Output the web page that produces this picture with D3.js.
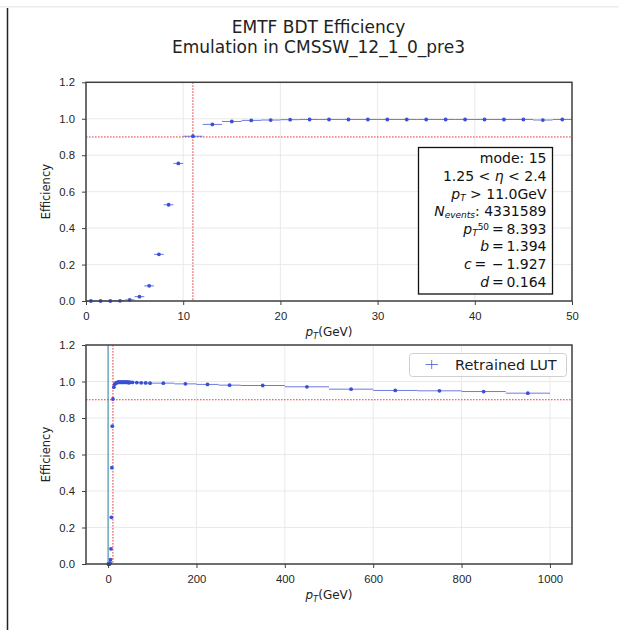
<!DOCTYPE html>

<head>
    <meta charset="UTF-8">
    <script src="https://d3js.org/d3.v7.min.js"></script>
    <style>
        body {
            margin: 0;
            background: #fff;
            font-family: "DejaVu Sans", sans-serif;
        }

        .tick text {
            font-size: 11.3px;
            fill: #262626;
        }

        .tick line {
            stroke: #404040;
        }
    </style>
</head>

<body>
    <div id="viz"></div>
    <script>
        // efficiency per pT bin (bin centre, half width, efficiency)
        const lowPtCenters = [0.5, 1.5, 2.5, 3.5, 4.5, 5.5, 6.5, 7.5, 8.5, 9.5,
            11, 13, 15, 17, 19, 21, 23, 25, 27, 29, 31, 33, 35, 37, 39, 41, 43, 45, 47, 49];
        const lowPtHalfWidths = [0.5, 0.5, 0.5, 0.5, 0.5, 0.5, 0.5, 0.5, 0.5, 0.5,
            1, 1, 1, 1, 1, 1, 1, 1, 1, 1, 1, 1, 1, 1, 1, 1, 1, 1, 1, 1];
        const lowPtEff = [0.000, 0.000, 0.000, 0.001, 0.006, 0.024, 0.083, 0.256, 0.528, 0.755,
            0.904, 0.969, 0.985, 0.991, 0.993, 0.995, 0.996, 0.996, 0.996, 0.996,
            0.996, 0.996, 0.996, 0.996, 0.996, 0.996, 0.996, 0.996, 0.993, 0.996];

        const highPtCenters = [55, 65, 75, 85, 95, 125, 175, 225, 275, 350, 450, 550, 650, 750, 850, 950];
        const highPtHalfWidths = [5, 5, 5, 5, 5, 25, 25, 25, 25, 50, 50, 50, 50, 50, 50, 50];
        const highPtEff = [0.995, 0.994, 0.993, 0.992, 0.991, 0.991, 0.987, 0.984, 0.980,
            0.978, 0.971, 0.958, 0.951, 0.949, 0.945, 0.936];

        const topXTicks = [0, 10, 20, 30, 40, 50];
        const bottomXTicks = [0, 200, 400, 600, 800, 1000];
        const yTicks = [0, 0.2, 0.4, 0.6, 0.8, 1.0, 1.2];

        const ptCut = 11.0;
        const effThreshold = 0.9;
        const titleLines = ["EMTF BDT Efficiency", "Emulation in CMSSW_12_1_0_pre3"];
        const legendLabel = "Retrained LUT";

        // info box lines, each a list of pieces (it = italic, sub/sup = script)
        const infoLines = [
            [{ t: "mode: 15" }],
            [{ t: "1.25 < " }, { t: "η", it: true }, { t: " < 2.4" }],
            [{ t: "p", it: true }, { t: "T", it: true, sub: true }, { t: " > 11.0GeV" }],
            [{ t: "N", it: true }, { t: "events", it: true, sub: true }, { t: ": 4331589" }],
            [{ t: "p", it: true }, { t: "T", it: true, sub: true }, { t: "50", sup: true }, { t: "\u2009=\u20098.393" }],
            [{ t: "b", it: true }, { t: "\u2009=\u20091.394" }],
            [{ t: "c", it: true }, { t: "\u2009=\u2009\u2009\u2212\u20091.927" }],
            [{ t: "d", it: true }, { t: "\u2009=\u20090.164" }]
        ];

        const width = 619;
        const height = 630;
        const blue = "#3b4fd6";
        const red = "#e8383d";

        const svg = d3.select("#viz").append("svg")
            .attr("width", width)
            .attr("height", height);

        svg.append("rect").attr("width", width).attr("height", height).attr("fill", "#fff");

        // notebook cell edges
        svg.append("rect").attr("x", 0).attr("y", 6).attr("width", width).attr("height", 1.5).attr("fill", "#ececec");
        svg.append("line").attr("x1", 7.5).attr("x2", 7.5).attr("y1", 8).attr("y2", height)
            .attr("stroke", "#222").attr("stroke-width", 1.5);

        // title
        svg.append("text")
            .attr("x", 318.5).attr("text-anchor", "middle")
            .style("font-size", "17px").attr("fill", "#222")
            .selectAll("tspan").data(titleLines).enter().append("tspan")
            .attr("x", 318.5)
            .attr("y", (d, i) => 33.3 + i * 19.6)
            .text(d => d);

        function drawPanel(opt) {
            const x = d3.scaleLinear().domain(opt.xDomain).range([86, 572]);
            const y = d3.scaleLinear().domain([0, 1.2]).range([opt.bottom, opt.top]);
            const g = svg.append("g");

            // grid
            g.selectAll(".gx").data(opt.xTicks).enter().append("line")
                .attr("x1", d => x(d)).attr("x2", d => x(d))
                .attr("y1", opt.top).attr("y2", opt.bottom)
                .attr("stroke", "#e4e4e4").attr("stroke-width", 0.8);
            g.selectAll(".gy").data(yTicks).enter().append("line")
                .attr("x1", 86).attr("x2", 572)
                .attr("y1", d => y(d)).attr("y2", d => y(d))
                .attr("stroke", "#e4e4e4").attr("stroke-width", 0.8);

            if (opt.zeroLine) {
                g.append("line")
                    .attr("x1", x(0)).attr("x2", x(0))
                    .attr("y1", opt.top).attr("y2", opt.bottom)
                    .attr("stroke", "#2f86a8").attr("stroke-width", 1);
            }

            // threshold lines
            g.append("line")
                .attr("x1", 86).attr("x2", 572)
                .attr("y1", y(effThreshold)).attr("y2", y(effThreshold))
                .attr("stroke", red).attr("stroke-width", 1).attr("stroke-dasharray", "1.6,1.4");
            g.append("line")
                .attr("x1", x(ptCut)).attr("x2", x(ptCut))
                .attr("y1", opt.top).attr("y2", opt.bottom)
                .attr("stroke", red).attr("stroke-width", 1).attr("stroke-dasharray", "1.6,1.4");

            // error bars + markers
            const pts = g.selectAll(".pt").data(opt.data).enter().append("g");
            pts.append("line")
                .attr("x1", d => x(d.c - d.w)).attr("x2", d => x(d.c + d.w))
                .attr("y1", d => y(d.e)).attr("y2", d => y(d.e))
                .attr("stroke", blue).attr("stroke-opacity", 0.75).attr("stroke-width", 1);
            pts.append("circle")
                .attr("cx", d => x(d.c)).attr("cy", d => y(d.e)).attr("r", 1.9)
                .attr("fill", blue);

            // axes
            const xAxis = d3.axisBottom(x).tickValues(opt.xTicks).tickFormat(d3.format("d"))
                .tickSize(4).tickPadding(7);
            const ax = g.append("g").attr("transform", `translate(0,${opt.bottom})`).call(xAxis);
            ax.select(".domain").remove();

            const yAxis = d3.axisLeft(y).tickValues(yTicks).tickFormat(d3.format(".1f"))
                .tickSize(4).tickPadding(7);
            const ay = g.append("g").attr("transform", "translate(86,0)").call(yAxis);
            ay.select(".domain").remove();

            g.append("rect")
                .attr("x", 86).attr("y", opt.top)
                .attr("width", 486).attr("height", opt.bottom - opt.top)
                .attr("fill", "none").attr("stroke", "#404040").attr("stroke-width", 1.5);

            // labels
            const xl = g.append("text")
                .attr("x", 329).attr("y", opt.bottom + 35)
                .attr("text-anchor", "middle").style("font-size", "12px").attr("fill", "#222");
            xl.append("tspan").text("p").style("font-style", "italic");
            xl.append("tspan").text("T").style("font-style", "italic").style("font-size", "8.4px").attr("dy", 2.7);
            xl.append("tspan").text("(GeV)").attr("dy", -2.7);

            g.append("text")
                .attr("transform", `translate(50,${(opt.top + opt.bottom) / 2}) rotate(-90)`)
                .attr("text-anchor", "middle").style("font-size", "11.5px").attr("fill", "#222")
                .text("Efficiency");

            return { g, x, y };
        }

        const topData = lowPtCenters.map((c, i) => ({ c, w: lowPtHalfWidths[i], e: lowPtEff[i] }));
        const allData = topData.concat(highPtCenters.map((c, i) => ({ c, w: highPtHalfWidths[i], e: highPtEff[i] })));

        drawPanel({ xDomain: [0, 50], xTicks: topXTicks, top: 82.3, bottom: 301, data: topData });
        drawPanel({ xDomain: [-50, 1050], xTicks: bottomXTicks, top: 345, bottom: 564, data: allData, zeroLine: true });

        // info box in upper panel
        const box = svg.append("g");
        box.append("rect")
            .attr("x", 418.5).attr("y", 147.5).attr("width", 134).attr("height", 146.5)
            .attr("fill", "#fff").attr("stroke", "#111").attr("stroke-width", 1.3);

        infoLines.forEach((pieces, i) => {
            const t = box.append("text")
                .attr("x", 546.5).attr("y", 163.3 + i * 17.6)
                .attr("text-anchor", "end").style("font-size", "14px").attr("fill", "#111");
            let shift = 0;
            pieces.forEach(p => {
                let target = 0;
                if (p.sub) target = 2.2;
                if (p.sup) target = -4;
                const s = t.append("tspan").text(p.t).attr("dy", target - shift);
                shift = target;
                if (p.it) s.style("font-style", "italic");
                if (p.sub || p.sup) s.style("font-size", "9px");
            });
        });

        // legend in lower panel
        const leg = svg.append("g");
        leg.append("rect")
            .attr("x", 409.5).attr("y", 353.5).attr("width", 157).attr("height", 23).attr("rx", 3)
            .attr("fill", "#fff").attr("fill-opacity", 0.85).attr("stroke", "#d0d0d0");
        leg.append("line").attr("x1", 425.5).attr("x2", 438).attr("y1", 364.5).attr("y2", 364.5)
            .attr("stroke", blue).attr("stroke-opacity", 0.75);
        leg.append("line").attr("x1", 431.7).attr("x2", 431.7).attr("y1", 360).attr("y2", 369)
            .attr("stroke", blue).attr("stroke-opacity", 0.75);
        leg.append("text").attr("x", 455).attr("y", 369.5)
            .style("font-size", "14.5px").attr("fill", "#222").text(legendLabel);
    </script>
</body>

</html>
